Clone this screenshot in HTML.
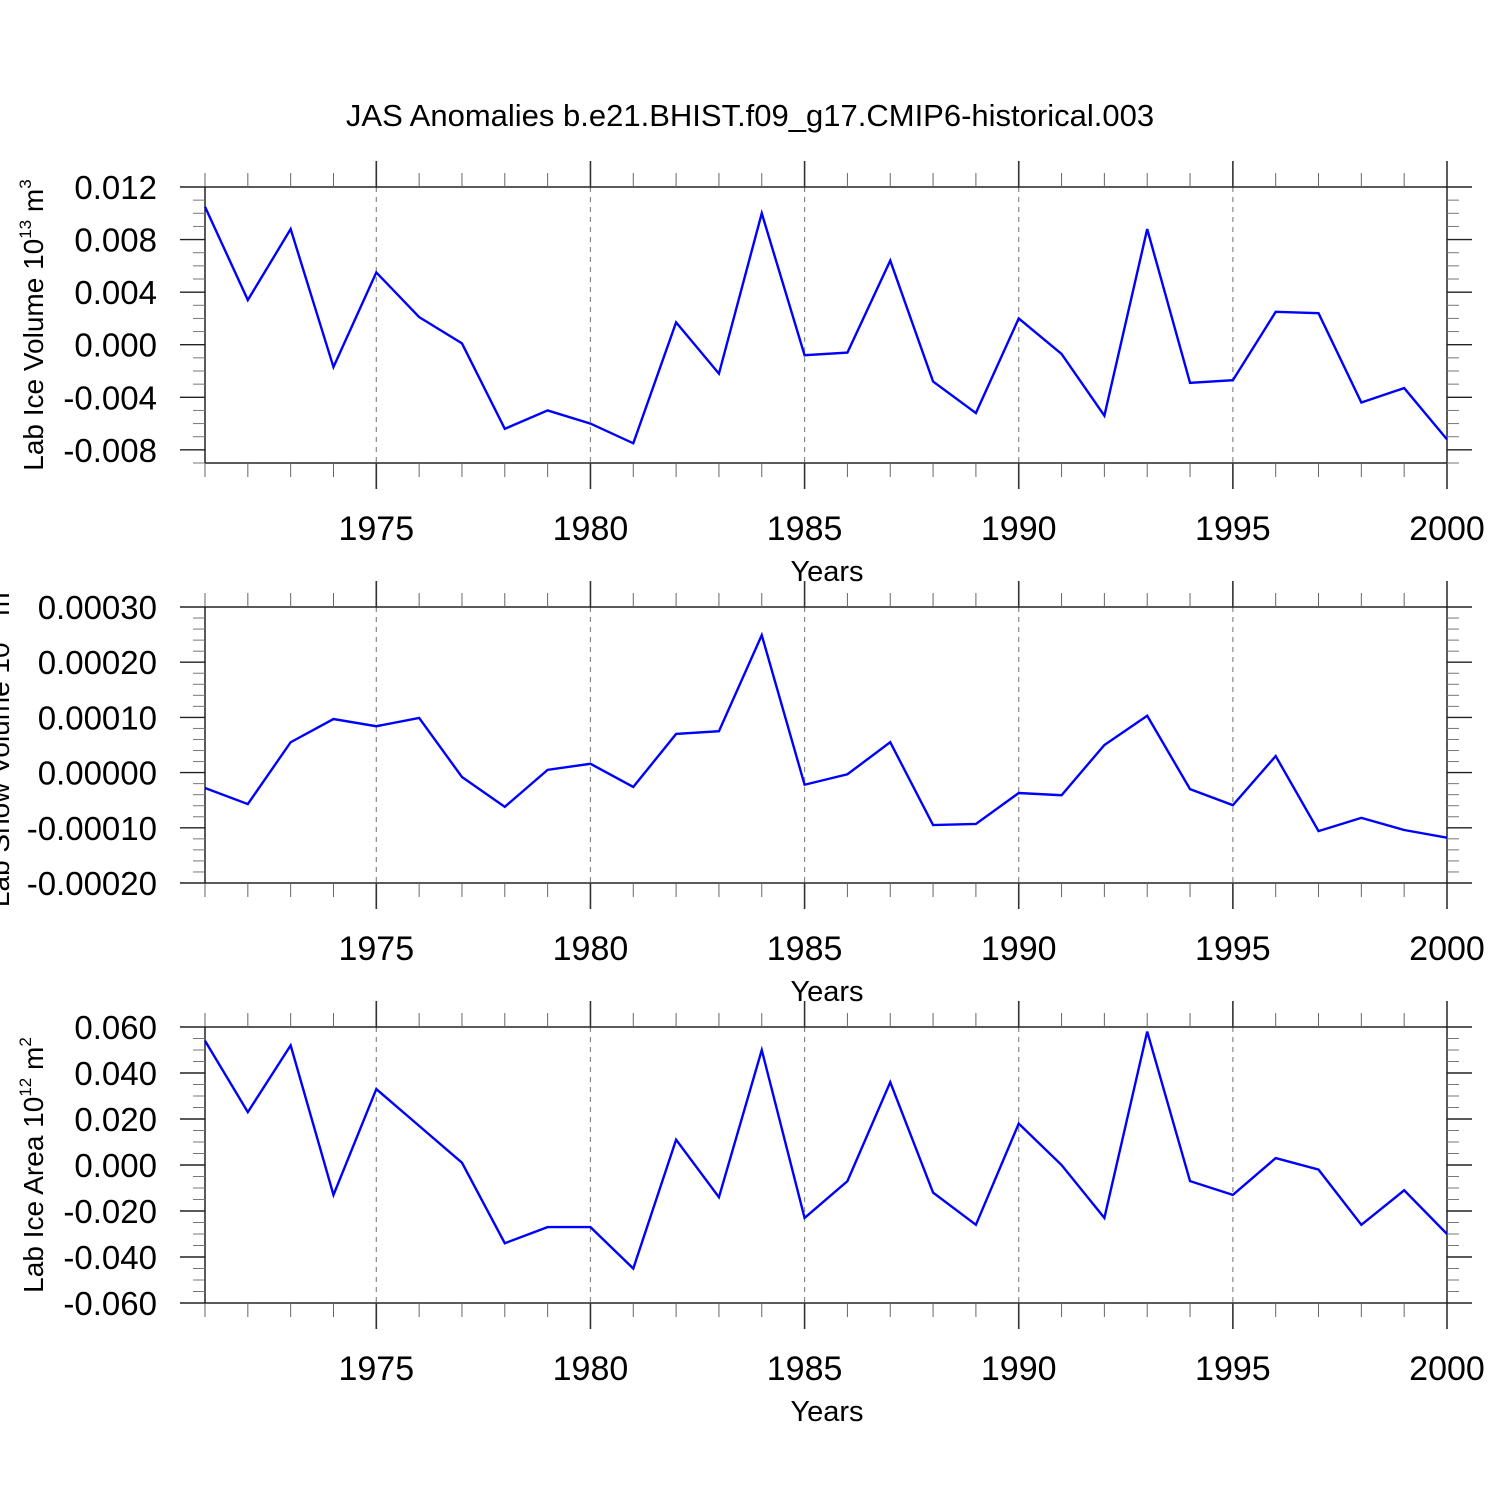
<!DOCTYPE html>
<html><head><meta charset="utf-8"><style>
html,body{margin:0;padding:0;background:#fff;}
svg{display:block;font-family:"Liberation Sans",sans-serif;}
</style></head><body>
<svg id="chart" width="1500" height="1500" viewBox="0 0 1500 1500" xmlns="http://www.w3.org/2000/svg">
<text x="750" y="126" font-size="31" text-anchor="middle">JAS Anomalies b.e21.BHIST.f09_g17.CMIP6-historical.003</text>
</svg>
<script>
const years = [1971,1972,1973,1974,1975,1976,1977,1978,1979,1980,1981,1982,1983,1984,1985,1986,1987,1988,1989,1990,1991,1992,1993,1994,1995,1996,1997,1998,1999,2000];
const iceVolume = [0.0105,0.0034,0.0088,-0.0017,0.0055,0.0021,0.0001,-0.0064,-0.0050,-0.0060,-0.0075,0.0017,-0.0022,0.0100,-0.0008,-0.0006,0.0064,-0.0028,-0.0052,0.0020,-0.0007,-0.0054,0.0088,-0.0029,-0.0027,0.0025,0.0024,-0.0044,-0.0033,-0.0072];
const snowVolume = [-0.000028,-0.000057,0.000055,0.000097,0.000084,0.000099,-0.000008,-0.000062,0.000005,0.000016,-0.000026,0.000070,0.000075,0.000249,-0.000022,-0.000003,0.000055,-0.000095,-0.000093,-0.000037,-0.000041,0.000050,0.000103,-0.000030,-0.000059,0.000030,-0.000106,-0.000082,-0.000104,-0.000118];
const iceArea = [0.054,0.023,0.052,-0.013,0.033,0.017,0.001,-0.034,-0.027,-0.027,-0.045,0.011,-0.014,0.050,-0.023,-0.007,0.036,-0.012,-0.026,0.018,0.000,-0.023,0.058,-0.007,-0.013,0.003,-0.002,-0.026,-0.011,-0.030];
const xTickLabels = [1975,1980,1985,1990,1995,2000];
const tickLabels1 = ["0.012","0.008","0.004","0.000","-0.004","-0.008"];
const tickLabels2 = ["0.00030","0.00020","0.00010","0.00000","-0.00010","-0.00020"];
const tickLabels3 = ["0.060","0.040","0.020","0.000","-0.020","-0.040","-0.060"];

const NS="http://www.w3.org/2000/svg";
const svg=document.getElementById('chart');
function mk(tag,attrs,parent){const e=document.createElementNS(NS,tag);for(const k in attrs)e.setAttribute(k,attrs[k]);(parent||svg).appendChild(e);return e;}
const X0=205,X1=1447;
const xs=y=>X0+(y-1971)*(X1-X0)/29;

function panel(idx,top,ymin,ymax,vals,labels,majorStep,minorStep,ylabelMain,sup,unit,unitSup,labelX){
  const bot=top+276;
  const ys=v=>bot-(v-ymin)/(ymax-ymin)*276;
  const g=mk('g',{});
  
  
  for(const yr of [1975,1980,1985,1990,1995]){
    const l=mk('line',{x1:xs(yr),x2:xs(yr),y1:top,y2:bot,stroke:'#888','stroke-width':1.2,'stroke-dasharray':'5,5'},g);
    
    
  }
  const fr=mk('rect',{x:X0,y:top,width:X1-X0,height:276,fill:'none',stroke:'#000','stroke-width':1.3},g);
  
  
  for(let yr=1971;yr<=2000;yr++){
    const major=yr%5===0;
    const len=major?26:14;
    mk('line',{x1:xs(yr),x2:xs(yr),y1:top,y2:top-len,stroke:major?'#333':'#666','stroke-width':major?1.6:1},g);
    mk('line',{x1:xs(yr),x2:xs(yr),y1:bot,y2:bot+len,stroke:major?'#333':'#666','stroke-width':major?1.6:1},g);
  }
  xTickLabels.forEach(yr=>{
    const t=mk('text',{x:xs(yr),y:bot+77,'font-size':34,'text-anchor':'middle'},g);
    t.textContent=yr;
    
    
  });
  const xt=mk('text',{x:827,y:bot+118,'font-size':29,'text-anchor':'middle'},g);
  xt.textContent='Years';
  
  
  const n=Math.round((ymax-ymin)/minorStep);
  const per=Math.round(majorStep/minorStep);
  for(let i=0;i<=n;i++){
    const v=ymax-i*minorStep;
    const major=i%per===0;
    const len=major?25:12;
    const y=ys(v);
    mk('line',{x1:X0,x2:X0-len,y1:y,y2:y,stroke:major?'#222':'#777','stroke-width':major?1.4:1},g);
    mk('line',{x1:X1,x2:X1+len,y1:y,y2:y,stroke:major?'#222':'#777','stroke-width':major?1.4:1},g);
  }
  labels.forEach((lab,i)=>{
    const v=ymax-i*majorStep;
    const t=mk('text',{x:157,y:ys(v)+12,'font-size':33,'text-anchor':'end'},g);
    t.textContent=lab;
    
    
  });
  const cy=top+138;
  const yt=mk('text',{x:labelX,y:cy,'font-size':28,'text-anchor':'middle',transform:`rotate(-90 ${labelX} ${cy})`},g);
  
  
  const a=mk('tspan',{},yt);a.textContent=ylabelMain+' 10';
  const b=mk('tspan',{dy:-12,'font-size':17},yt);b.textContent=sup;
  const c=mk('tspan',{dy:12},yt);c.textContent=' '+unit;
  const d=mk('tspan',{dy:-12,'font-size':17},yt);d.textContent=unitSup;
  const pts=vals.map((v,i)=>xs(years[i])+','+ys(v)).join(' ');
  const pl=mk('polyline',{points:pts,fill:'none',stroke:'#0000ff','stroke-width':2.4,'stroke-linejoin':'miter'},g);
  
  
}
panel(1,187,-0.009,0.012,iceVolume,tickLabels1,0.004,0.001,'Lab Ice Volume','13','m','3',43);
panel(2,607,-0.0002,0.0003,snowVolume,tickLabels2,0.0001,0.00002,'Lab Snow Volume','13','m','3',9);
panel(3,1027,-0.06,0.06,iceArea,tickLabels3,0.02,0.005,'Lab Ice Area','12','m','2',43);
</script>
</body></html>
